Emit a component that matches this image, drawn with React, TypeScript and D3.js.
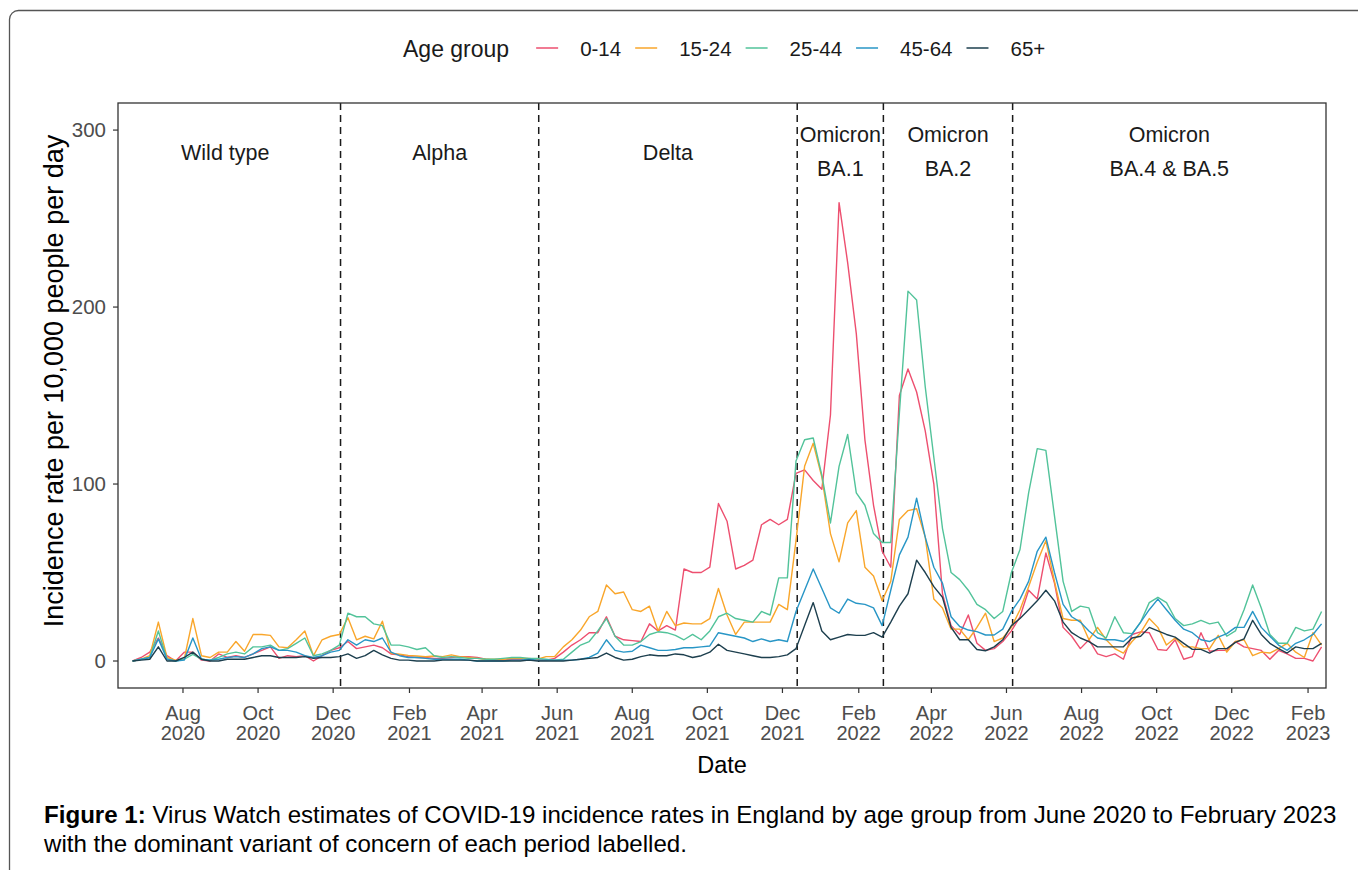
import React, { useEffect, useRef } from "react";
import { select, scaleUtc, scaleLinear, line, utcParse, utcDay, utcFormat } from "d3";

// weekly estimates, first week starting 21 June 2020
const firstWeek = "2020-06-21";
const ageGroups = ["0-14", "15-24", "25-44", "45-64", "65+"];
const groupColours = ["#ED4F6F", "#F9A62B", "#52C39A", "#2896C6", "#1D3F4E"];

const age0to14 = [
  0, 2, 5, 13, 3, 0, 5, 5, 0.5, 0,
  4, 2, 3, 2, 4, 6, 8, 1.5, 3, 2.5,
  3, 0, 3, 6, 7.5, 11, 7, 8, 9, 7.5,
  4, 3.5, 2.5, 2, 2, 1.5, 1.5, 2, 2.5, 2.5,
  2, 1, 0.5, 0.5, 1, 1, 0.5, 0.5, 0.5, 1.5,
  5, 9, 12, 16, 16, 25, 14, 12, 11.5, 11,
  21, 17, 20, 17.5, 52, 50, 50, 53, 89, 79,
  52, 54, 57, 77, 80, 77, 80, 106, 108, 102,
  97, 139, 259, 225, 185, 125, 88, 62, 53, 150,
  165, 152, 130, 100, 38, 20, 15, 26, 10, 6,
  7, 11, 17, 25, 40, 35, 61, 44, 19, 14,
  7, 12, 4, 2.5, 4, 1, 15, 16.5, 16, 6.5,
  6, 12, 1, 2.5, 16, 5.5, 6, 6, 11, 8,
  7, 6, 1, 6, 4, 1.5, 1.5, 0, 8,
];
const age15to24 = [
  0, 1, 3, 22, 2, 0.5, 1, 24, 3, 2,
  5, 5, 11, 5.5, 15, 15, 14.5, 8, 7.5, 12,
  17, 3, 12, 14, 15, 24.5, 12, 14, 12.5, 22.5,
  4.3, 3.8, 3.2, 2.8, 2.4, 2.8, 2.5, 3.5, 2.5, 2,
  1.5, 1, 1, 1, 1.5, 1.5, 1.5, 1, 2.5, 2.5,
  8, 12, 17.5, 25, 28, 43, 38, 39, 29, 28,
  31, 17, 28, 20, 21.5, 21, 21, 24, 41, 26,
  15, 22, 22, 22, 22, 32, 29, 68, 110, 123,
  104, 72, 56, 78, 85, 53, 48, 34, 45, 80,
  85, 86, 70, 35, 30, 18, 18, 12, 19, 27,
  11, 13, 19, 29, 42, 56, 68, 45, 24, 23,
  23, 12, 19, 12, 7, 4.5, 11, 16, 24, 19,
  9, 13, 8, 8, 7, 7, 14.5, 5, 11, 12,
  3, 5, 4.5, 7, 10, 5, 2, 16, 9,
];
const age25to44 = [
  0, 1, 2, 17, 1, 0, 1, 3.7, 1, 0.5,
  2, 4, 5, 4, 8, 8, 9, 6, 7, 10,
  13, 3, 4, 6, 9, 27, 25, 25, 21, 20,
  9, 9, 8, 6.5, 7.5, 3, 2, 2.5, 2, 1.5,
  1.5, 1, 1, 1.5, 2, 2, 1.5, 1.5, 1, 0.5,
  1, 5, 9, 11, 17, 24, 14, 9, 9, 11,
  15, 16.5, 16, 14.5, 12, 15, 12, 17, 25, 27,
  24, 23, 22, 28, 26, 47, 47, 113, 125, 126,
  105, 78, 110, 128, 95, 88, 72, 67, 67, 140,
  209, 204, 155, 115, 75, 50, 46, 40, 32, 29,
  24, 28, 50, 63, 95, 120, 119, 82, 45, 28,
  31, 30, 16, 13, 25, 16, 15.5, 22, 33, 36,
  33, 24, 20, 21, 23, 21, 22, 14, 17, 29,
  43, 30, 15, 10, 10, 19, 17, 18, 28,
];
const age45to64 = [
  0, 1, 2, 12.5, 1, 0, 0.5, 13, 1, 0.5,
  1, 2, 2.5, 2, 4, 7, 8, 6, 6, 5,
  3, 2, 3, 5, 6, 12, 9, 12, 11, 13,
  5, 3, 2, 2, 1.5, 1, 1, 1, 1, 0.5,
  0, 0, 0, 0, 0.5, 0.5, 1, 0.5, 0.5, 0.5,
  0.5, 0.5, 1, 2, 4.5, 12, 6, 5, 5.5, 9,
  7.5, 6, 6, 6.5, 7.5, 7.5, 8, 8.5, 16, 15,
  14, 13, 11, 12.5, 11, 12, 11, 28, 40, 52,
  41, 30, 27, 35, 32.6, 32, 30, 20, 40, 60,
  70, 92, 70, 53, 44, 25, 19.5, 17.5, 16.6, 14.7,
  14.7, 18, 28, 35, 45, 62, 70, 50, 32, 25,
  22, 17, 13, 12, 12, 11, 15, 22, 29, 35,
  29, 23, 18, 16, 12, 11, 13.5, 15.5, 19, 19,
  28, 19, 14, 9, 6, 10, 12, 15, 21,
];
const age65plus = [
  0, 0.5, 1, 8, 0, 0, 2, 5, 1, 0,
  0, 1, 1, 1, 2, 3, 3, 2, 2, 2,
  2.5, 1.5, 2, 2, 2.5, 4, 1.5, 3, 6, 3.5,
  1.5, 0.5, 0.5, 0, 0, 0, 0.5, 0.5, 0.5, 0.5,
  0, 0, 0, 0, 0, 0, 0.5, 0, 0, 0,
  0, 0.5, 1, 1.5, 2, 4.5, 2, 0.5, 1, 2.5,
  3.5, 3, 3, 4, 3.5, 2, 3, 5, 9.5, 6,
  5, 4, 3, 2, 2, 2.5, 3.5, 7, 20, 33,
  17, 12, 13.5, 15, 14.5, 14.5, 16, 13.5, 22, 31,
  38, 57, 50, 42, 36, 19, 12, 12, 6.5, 5.8,
  8, 12, 20, 24, 29, 34, 40, 34, 22, 16,
  13, 11, 8, 8, 8, 8, 13, 14, 19, 17,
  15, 13.5, 10, 6.6, 6.6, 4.5, 7, 7, 10.5, 12.5,
  23, 15, 10, 7, 4.5, 8, 7, 7, 10,
];
const seriesValues = [age0to14, age15to24, age25to44, age45to64, age65plus];

const xTickDates = [
  "2020-08-01", "2020-10-01", "2020-12-01", "2021-02-01", "2021-04-01", "2021-06-01",
  "2021-08-01", "2021-10-01", "2021-12-01", "2022-02-01", "2022-04-01", "2022-06-01",
  "2022-08-01", "2022-10-01", "2022-12-01", "2023-02-01",
];
const yTicks = [0, 100, 200, 300];

const periodBreaks = ["2020-12-07", "2021-05-17", "2021-12-13", "2022-02-21", "2022-06-06"];
const periodNames = [
  ["Wild type"],
  ["Alpha"],
  ["Delta"],
  ["Omicron", "BA.1"],
  ["Omicron", "BA.2"],
  ["Omicron", "BA.4 & BA.5"],
];

const FONT = "'Liberation Sans', Arial, Helvetica, sans-serif";

const App = () => {
  const svgRef = useRef(null);

  useEffect(() => {
    const svg = select(svgRef.current);
    svg.selectAll("*").remove();

    const parse = utcParse("%Y-%m-%d");
    const left = 118, right = 1326, top = 103, bottom = 688;

    const x = scaleUtc()
      .domain([new Date(Date.UTC(2020, 5, 9, 5)), new Date(Date.UTC(2023, 1, 15, 14))])
      .range([left, right]);
    const y = scaleLinear().domain([-15.25, 315.3]).range([bottom, top]);

    const start = parse(firstWeek);
    const weeks = age0to14.map((_, i) => utcDay.offset(start, 7 * i));

    svg.append("rect").attr("width", 1358).attr("height", 870).attr("fill", "#fff");
    // outer frame
    svg
      .append("rect")
      .attr("x", 9.5)
      .attr("y", 10.5)
      .attr("width", 1400)
      .attr("height", 900)
      .attr("rx", 9)
      .attr("fill", "none")
      .attr("stroke", "#555")
      .attr("stroke-width", 1.3);

    // legend
    const legend = svg.append("g").attr("font-family", FONT);
    const title = legend
      .append("text")
      .attr("x", 403)
      .attr("y", 56.5)
      .attr("font-size", 23)
      .attr("fill", "#1a1a1a")
      .text("Age group");
    let lx = 403 + title.node().getComputedTextLength() + 27;
    ageGroups.forEach((g, i) => {
      legend
        .append("line")
        .attr("x1", lx)
        .attr("x2", lx + 22)
        .attr("y1", 48)
        .attr("y2", 48)
        .attr("stroke", groupColours[i])
        .attr("stroke-width", 1.5);
      const t = legend
        .append("text")
        .attr("x", lx + 44)
        .attr("y", 55.5)
        .attr("font-size", 20.5)
        .attr("fill", "#1a1a1a")
        .text(g);
      lx = lx + 44 + t.node().getComputedTextLength() + 14;
    });

    // variant periods
    const bounds = [x.domain()[0], ...periodBreaks.map(parse), x.domain()[1]];
    svg
      .append("g")
      .selectAll("line")
      .data(periodBreaks.map(parse))
      .enter()
      .append("line")
      .attr("x1", (d) => x(d))
      .attr("x2", (d) => x(d))
      .attr("y1", top)
      .attr("y2", bottom)
      .attr("stroke", "#1a1a1a")
      .attr("stroke-width", 1.5)
      .attr("stroke-dasharray", "7,5");

    const labels = svg.append("g").attr("font-family", FONT).attr("font-size", 21.5).attr("fill", "#1a1a1a");
    periodNames.forEach((lines, i) => {
      const cx = (x(bounds[i]) + x(bounds[i + 1])) / 2 - (i === 0 ? 4 : 0);
      const t = labels.append("text").attr("text-anchor", "middle");
      if (lines.length === 1) {
        t.append("tspan").attr("x", cx).attr("y", 159.5).text(lines[0]);
      } else {
        t.append("tspan").attr("x", cx).attr("y", 141.5).text(lines[0]);
        t.append("tspan").attr("x", cx).attr("y", 175.5).text(lines[1]);
      }
    });

    // series
    const path = line()
      .x((d) => x(d[0]))
      .y((d) => y(d[1]));
    svg
      .append("g")
      .selectAll("path")
      .data(seriesValues)
      .enter()
      .append("path")
      .attr("d", (vals) => path(vals.map((v, i) => [weeks[i], v])))
      .attr("fill", "none")
      .attr("stroke", (_, i) => groupColours[i])
      .attr("stroke-width", 1.4)
      .attr("stroke-linejoin", "round");

    // panel border
    svg
      .append("rect")
      .attr("x", left)
      .attr("y", top)
      .attr("width", right - left)
      .attr("height", bottom - top)
      .attr("fill", "none")
      .attr("stroke", "#333")
      .attr("stroke-width", 1.3);

    // y axis
    const yAxis = svg.append("g").attr("font-family", FONT);
    yTicks.forEach((v) => {
      yAxis
        .append("line")
        .attr("x1", left - 5)
        .attr("x2", left)
        .attr("y1", y(v))
        .attr("y2", y(v))
        .attr("stroke", "#333")
        .attr("stroke-width", 1.2);
      yAxis
        .append("text")
        .attr("x", left - 12)
        .attr("y", y(v) + 7)
        .attr("text-anchor", "end")
        .attr("font-size", 20.5)
        .attr("fill", "#4d4d4d")
        .text(v);
    });

    // x axis
    const fmtMon = utcFormat("%b"), fmtYear = utcFormat("%Y");
    const xAxis = svg.append("g").attr("font-family", FONT);
    xTickDates.map(parse).forEach((d) => {
      xAxis
        .append("line")
        .attr("x1", x(d))
        .attr("x2", x(d))
        .attr("y1", bottom)
        .attr("y2", bottom + 5)
        .attr("stroke", "#333")
        .attr("stroke-width", 1.2);
      const t = xAxis.append("text").attr("text-anchor", "middle").attr("font-size", 20).attr("fill", "#4d4d4d");
      t.append("tspan").attr("x", x(d)).attr("y", 720).text(fmtMon(d));
      t.append("tspan").attr("x", x(d)).attr("y", 740).text(fmtYear(d));
    });

    // axis titles
    svg
      .append("text")
      .attr("x", (left + right) / 2)
      .attr("y", 773)
      .attr("text-anchor", "middle")
      .attr("font-family", FONT)
      .attr("font-size", 23.5)
      .attr("fill", "#000")
      .text("Date");
    svg
      .append("text")
      .attr("transform", `translate(63, 381) rotate(-90)`)
      .attr("text-anchor", "middle")
      .attr("font-family", FONT)
      .attr("font-size", 27)
      .attr("fill", "#000")
      .text("Incidence rate per 10,000 people per day");

    // caption
    const cap = svg.append("text").attr("font-family", FONT).attr("font-size", 24.1).attr("fill", "#000");
    const l1 = cap.append("tspan").attr("x", 44).attr("y", 823);
    l1.append("tspan").attr("font-weight", "bold").text("Figure 1:");
    l1.append("tspan").text(
      " Virus Watch estimates of COVID-19 incidence rates in England by age group from June 2020 to February 2023"
    );
    cap.append("tspan").attr("x", 44).attr("y", 852).text("with the dominant variant of concern of each period labelled.");
  }, []);

  return (
    <svg
      ref={svgRef}
      width={1358}
      height={870}
      style={{ position: "absolute", left: 0, top: 0, display: "block" }}
    ></svg>
  );
};

export default App;
